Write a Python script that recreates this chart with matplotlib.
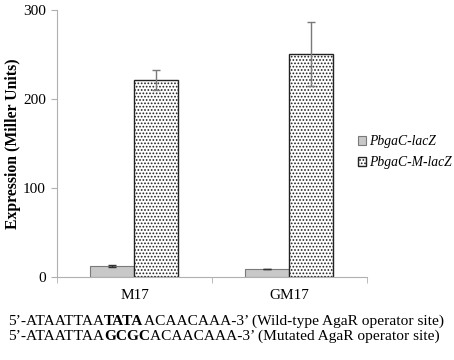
import matplotlib.pyplot as plt
import numpy as np

plt.rcParams['font.family'] = ['Liberation Serif', 'DejaVu Serif']

# data
media = ['M17', 'GM17']
wt_vals = [12, 9]
wt_err = [1, 0.5]
mut_vals = [221, 251]
mut_err = [11, 36]
series_names = ['PbgaC-lacZ', 'PbgaC-M-lacZ']

fig = plt.figure(figsize=(4.54, 3.6), dpi=100)
ax = fig.add_axes([0.1256, 0.2306, 0.6824, 0.7417])

x = np.arange(len(media))
w = 0.284
ax.bar(x - w / 2, wt_vals, w, color='#c8c8c8', edgecolor='#7a7a7a',
       linewidth=0.8, label=series_names[0], zorder=2)
ax.errorbar(x - w / 2, wt_vals, yerr=wt_err, fmt='none', ecolor='#333333',
            elinewidth=1, capsize=3, zorder=3)
plt.rcParams['hatch.color'] = '#9a9a9a'
plt.rcParams['hatch.linewidth'] = 0.8
ax.bar(x + w / 2, mut_vals, w, color='white', edgecolor='#222222',
       hatch='.....', linewidth=1.0, label=series_names[1], zorder=2)
ax.errorbar(x + w / 2, mut_vals, yerr=mut_err, fmt='none', ecolor='#7a7a7a',
            elinewidth=1, capsize=3, zorder=3)

ax.set_xlim(-0.5, 1.5)
ax.set_ylim(0, 300)
ax.set_yticks([0, 100, 200, 300])
ax.set_xticks(x)
ax.set_xticklabels(media, fontsize=11)
ax.set_xticks([-0.5, 0.5, 1.5], minor=True)
ax.tick_params(axis='x', which='major', length=0, pad=9)
ax.tick_params(axis='x', which='minor', length=4, color='#b0b0b0')
ax.tick_params(axis='y', length=4, color='#b0b0b0', labelsize=11, pad=4)
for s in ['top', 'right']:
    ax.spines[s].set_visible(False)
for s in ['left', 'bottom']:
    ax.spines[s].set_color('#b0b0b0')
ax.set_ylabel('Expression (Miller Units)', fontsize=11.3, fontweight='bold',
              labelpad=1.5)

leg = fig.legend(loc='upper left', bbox_to_anchor=(0.788, 0.625),
                 frameon=False, borderpad=0, borderaxespad=0,
                 handlelength=0.6, handleheight=0.6, handletextpad=0.2,
                 labelspacing=0.6, prop={'style': 'italic', 'size': 9.8})

# sequence lines with bold core bases
lines = [
    ['5’-ATAATTAA', 'TATA', 'ACAACAAA-3’ (Wild-type AgaR operator site)'],
    ['5’-ATAATTAA', 'GCGC', 'ACAACAAA-3’ (Mutated AgaR operator site)'],
]
ys = [0.097, 0.055]
fs = 11.1
for parts, yy in zip(lines, ys):
    t = fig.text(0.018, yy, parts[0], fontsize=fs, va='baseline')
    a1 = fig.add_artist(plt.Annotation(parts[1], xy=(1, 0), xycoords=t,
                                       va='bottom', fontsize=fs,
                                       fontweight='bold'))
    fig.add_artist(plt.Annotation(parts[2], xy=(1, 0), xycoords=a1,
                                  va='bottom', fontsize=fs))

fig.savefig('out.png', dpi=100)
